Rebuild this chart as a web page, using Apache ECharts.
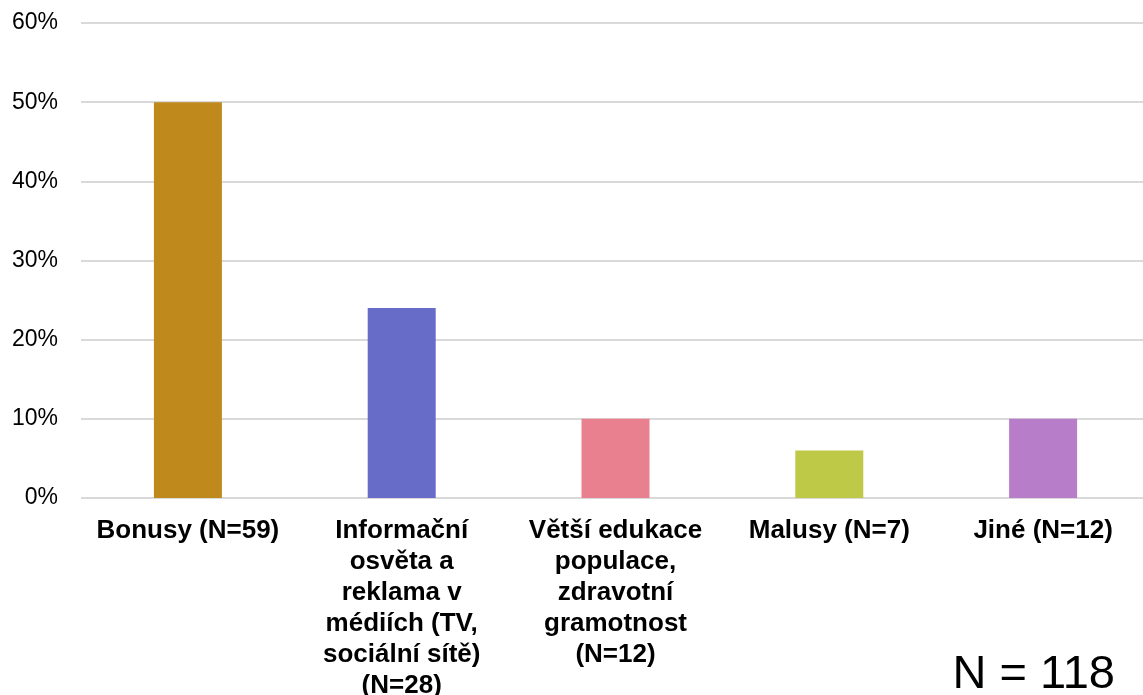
<!DOCTYPE html>
<html><head><meta charset="utf-8">
<script src="https://cdn.jsdelivr.net/npm/echarts@6/dist/echarts.min.js"></script>
<style>html,body{margin:0;padding:0;background:#fff}#c{width:1143px;height:695px}</style>
</head><body><div id="c"></div>
<script>
const categories = [
  "Bonusy (N=59)",
  "Informační\nosvěta a\nreklama v\nmédiích (TV,\nsociální sítě)\n(N=28)",
  "Větší edukace\npopulace,\nzdravotní\ngramotnost\n(N=12)",
  "Malusy (N=7)",
  "Jiné (N=12)"
];
const values = [50, 24, 10, 6, 10];
const colors = ["#C0891C", "#676CC8", "#E98090", "#BFC948", "#B87DC8"];
const yTicks = [0, 10, 20, 30, 40, 50, 60];

const chart = echarts.init(document.getElementById('c'), null, {renderer: 'canvas'});
chart.setOption({
  animation: false,
  grid: {left: 81, top: 23, width: 1069, height: 475, containLabel: false, outerBoundsMode: 'none'},
  xAxis: {
    type: 'category', data: categories,
    axisLine: {show: false}, axisTick: {show: false},
    axisLabel: {interval: 0, margin: 17, fontFamily: 'Liberation Sans, Arial, sans-serif', fontSize: 26, fontWeight: 'bold', color: '#000', lineHeight: 31, align: 'center'}
  },
  yAxis: {
    type: 'value', min: yTicks[0], max: yTicks[yTicks.length-1], interval: 10,
    axisLine: {show: false}, axisTick: {show: false},
    splitLine: {lineStyle: {color: '#D9D9D9', width: 2}},
    axisLabel: {margin: 23, fontFamily: 'Liberation Sans, Arial, sans-serif', fontSize: 23, color: '#000', formatter: v => v + '%'}
  },
  series: [{
    type: 'bar', barWidth: 68,
    data: values.map((v, i) => ({value: v, itemStyle: {color: colors[i]}}))
  }],
  graphic: [{
    type: 'text', x: 1115, y: 675,
    style: {text: 'N = 118', font: '47px "Liberation Sans", Arial, sans-serif', fill: '#000', textAlign: 'right', textVerticalAlign: 'middle'}
  }]
});
</script></body></html>
